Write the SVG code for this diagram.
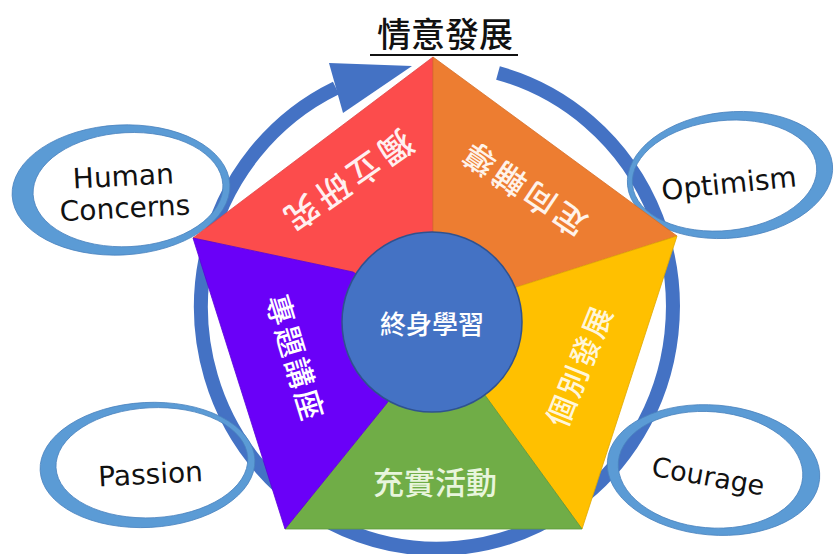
<svg xmlns="http://www.w3.org/2000/svg" width="836" height="554" viewBox="0 0 836 554">
<style>
.ring{fill:none;stroke:#4472C4;stroke-width:14}
.oval{fill:#5B9BD5;fill-rule:evenodd;stroke:#4A82BE;stroke-width:0.8}
.en{font-family:"DejaVu Sans","Liberation Sans",sans-serif;font-size:28px;fill:#111;text-anchor:middle}
.cjk{font-family:"Noto Sans CJK TC","Noto Sans CJK SC",sans-serif;text-anchor:middle;dominant-baseline:central;font-weight:500}
.wedge{stroke-width:0.8}
</style>
<rect width="836" height="554" fill="#ffffff"/>

<g id="connectors">
  <path class="ring" d="M 498 73 A 236 242 0 1 1 336 88"/>
  <polygon points="329,63 412,66 343,113" fill="#4472C4"/>
</g>

<g id="human-concerns" transform="rotate(-3 121 190)">
  <path class="oval" d="M 12 190 a 109 65 0 1 0 218 0 a 109 65 0 1 0 -218 0 Z M 33 190 a 95 57 0 1 0 190 0 a 95 57 0 1 0 -190 0 Z"/>
  <text class="en" x="124" y="186">Human</text>
  <text class="en" x="124" y="218">Concerns</text>
</g>

<g id="optimism" transform="rotate(-6 730 175)">
  <path class="oval" d="M 627 175 a 103 63 0 1 0 206 0 a 103 63 0 1 0 -206 0 Z M 632 175 a 92.5 55 0 1 0 185 0 a 92.5 55 0 1 0 -185 0 Z"/>
  <text class="en" x="728" y="193">Optimism</text>
</g>

<g id="passion" transform="rotate(-3 147 465)">
  <path class="oval" d="M 40 465 a 107.5 62.5 0 1 0 215 0 a 107.5 62.5 0 1 0 -215 0 Z M 56 463 a 96 55 0 1 0 192 0 a 96 55 0 1 0 -192 0 Z"/>
  <text class="en" x="150" y="484">Passion</text>
</g>

<g id="courage" transform="rotate(5 713 470)">
  <path class="oval" d="M 607 470 a 106.5 65 0 1 0 213 0 a 106.5 65 0 1 0 -213 0 Z M 618 470 a 92.5 58 0 1 0 185 0 a 92.5 58 0 1 0 -185 0 Z"/>
  <text class="en" x="708" y="486" transform="rotate(5 708 486)" style="font-size:27px">Courage</text>
</g>

<g id="red-wedge">
  <polygon class="wedge" points="433,57 193,238 353,272 432,322 433,232" fill="#FC4C4C" stroke="#E04545"/>
  <text class="cjk" x="348" y="183" transform="rotate(145 348 183)" style="font-size:33px;letter-spacing:5px" fill="#FFF0F0">獨立研究</text>
</g>

<g id="orange-wedge">
  <polygon class="wedge" points="433,57 677,236 517,287 432,322 433,232" fill="#ED7D31" stroke="#D66E2A"/>
  <text class="cjk" x="522" y="190" transform="rotate(214 522 190)" style="font-size:32px;letter-spacing:4px" fill="#FFF3EA">定向輔導</text>
</g>

<g id="yellow-wedge">
  <polygon class="wedge" points="677,236 582,529 487,398 432,322 517,287" fill="#FFC000" stroke="#E0A800"/>
  <text class="cjk" x="578" y="365" transform="rotate(-68 578 365)" style="font-size:30px;letter-spacing:2px" fill="#FFF6DA">個別發展</text>
</g>

<g id="green-wedge">
  <polygon class="wedge" points="582,529 285,529 387,403 432,322 487,398" fill="#70AD47" stroke="#5E9A3A"/>
  <text class="cjk" x="435" y="480" style="font-size:31px" fill="#E8F5DC">充實活動</text>
</g>

<g id="purple-wedge">
  <polygon class="wedge" points="285,529 193,238 353,272 432,322 387,403" fill="#6A00F8" stroke="#5A00D8"/>
  <text class="cjk" x="297" y="358" transform="rotate(73 297 358)" style="font-size:30px;letter-spacing:3px" fill="#FFFFFF">專題講座</text>
</g>

<g id="center">
  <circle cx="432" cy="322" r="90" fill="#4472C4" stroke="#2F528F" stroke-width="1.5"/>
  <text class="cjk" x="432" y="322" style="font-size:26px" fill="#FFFFFF">終身學習</text>
</g>

<g id="title">
  <text class="cjk" x="445" y="32" style="font-size:34px" fill="#111111">情意發展</text>
  <line x1="370" y1="55" x2="518" y2="55" stroke="#111111" stroke-width="2"/>
</g>
</svg>
